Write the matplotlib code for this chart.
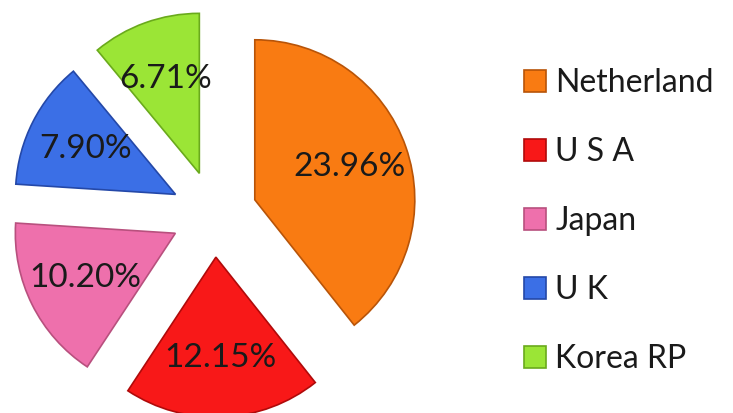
import matplotlib.pyplot as plt

countries = ['Netherland', 'U S A', 'Japan', 'U K', 'Korea RP']
shares = [23.96, 12.15, 10.20, 7.90, 6.71]
colors = ['#F97B12', '#F81818', '#EE70AC', '#3B6FE6', '#9BE536']
edges = ['#B85408', '#B00A0A', '#B8507E', '#2448A8', '#6AAA1C']

total = sum(shares)

fig = plt.figure(figsize=(7.33, 4.13), dpi=100)
ax = fig.add_axes([0, 0, 1, 1])

wedges, texts, autotexts = ax.pie(
    shares,
    colors=colors,
    startangle=90,
    counterclock=False,
    explode=[0.27] * len(shares),
    autopct=lambda p: '%.2f%%' % (p * total / 100),
    pctdistance=0.63,
    textprops={'fontsize': 24, 'color': '#1a1a1a', 'family': 'Lato'},
    wedgeprops={'linewidth': 1.2},
)
for w, ec in zip(wedges, edges):
    w.set_edgecolor(ec)

# 1 unit = 160 px, pie centre at (214, 214) px from top-left
ax.set_xlim(-214 / 160, 519 / 160)
ax.set_ylim(-199 / 160, 214 / 160)
ax.set_aspect('equal', adjustable='box')
ax.axis('off')

leg = ax.legend(
    wedges, countries,
    loc='upper left',
    bbox_to_anchor=(0.675, 0.905),
    frameon=False,
    prop={'family': 'Lato', 'size': 23},
    labelspacing=1.22,
    handlelength=0.7,
    handleheight=0.7,
    handletextpad=0.3,
)
for t in leg.get_texts():
    t.set_color('#1a1a1a')

fig.savefig('out.png', dpi=100)
